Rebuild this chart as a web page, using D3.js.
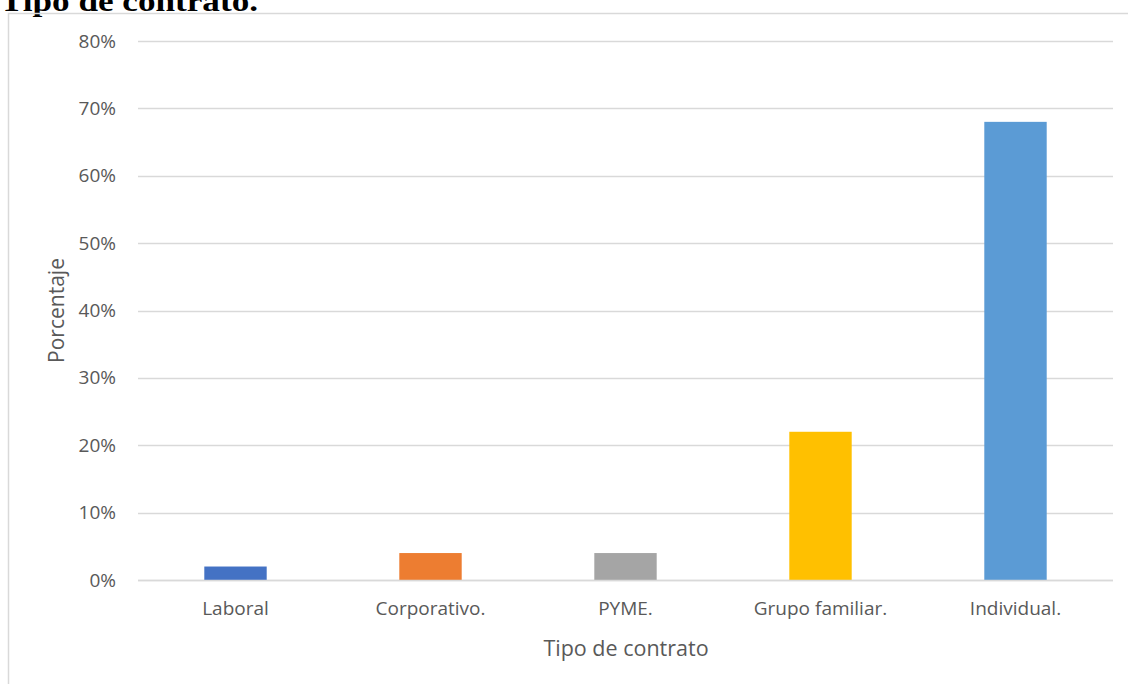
<!DOCTYPE html>
<html>
<head>
<meta charset="utf-8">
<script src="https://cdn.jsdelivr.net/npm/d3@7"></script>
<style>
  html, body { margin: 0; padding: 0; background: #fff; }
  svg { display: block; }
</style>
</head>
<body>
<svg id="chart" width="1128" height="684"></svg>
<script>
// Contract types and their share of the total (percent)
const categories = ["Laboral", "Corporativo.", "PYME.", "Grupo familiar.", "Individual."];
const values = [2, 4, 4, 22, 68];
const colors = ["#4472C4", "#ED7D31", "#A5A5A5", "#FFC000", "#5B9BD5"];
const yTicks = [0, 10, 20, 30, 40, 50, 60, 70, 80];

const svg = d3.select("#chart");
const font = "'Open Sans', 'Noto Sans', sans-serif";
const textColor = "#595959";

// Heading above the chart frame
svg.append("text")
  .attr("x", 0).attr("y", 11)
  .attr("font-family", "'Liberation Serif', 'Times New Roman', serif")
  .attr("font-weight", "bold")
  .attr("font-size", 29)
  .attr("textLength", 258)
  .attr("lengthAdjust", "spacingAndGlyphs")
  .attr("fill", "#000")
  .text("Tipo de contrato.");

// Chart frame (extends past the right and bottom edges)
svg.append("rect")
  .attr("x", 8.5).attr("y", 13.5)
  .attr("width", 1130).attr("height", 690)
  .attr("fill", "none")
  .attr("stroke", "#D9D9D9")
  .attr("stroke-width", 1.5);

const plot = { left: 138, right: 1113, top: 41, bottom: 580 };

const x = d3.scaleBand()
  .domain(categories)
  .range([plot.left, plot.right])
  .paddingInner(0.68)
  .paddingOuter(0.34);

const y = d3.scaleLinear()
  .domain([0, 80])
  .range([plot.bottom, plot.top]);

// Horizontal gridlines
svg.append("g")
  .selectAll("line")
  .data(yTicks)
  .join("line")
  .attr("x1", plot.left).attr("x2", plot.right)
  .attr("y1", d => Math.round(y(d)) + 0.5)
  .attr("y2", d => Math.round(y(d)) + 0.5)
  .attr("stroke", "#D9D9D9")
  .attr("stroke-width", 1.5);

// Y axis labels
const yAxis = d3.axisLeft(y)
  .tickValues(yTicks)
  .tickFormat(d => d + "%")
  .tickSize(0)
  .tickPadding(22);
const gy = svg.append("g")
  .attr("transform", `translate(${plot.left},0)`)
  .call(yAxis);
gy.select(".domain").remove();
gy.selectAll("text")
  .attr("font-family", font)
  .attr("font-size", 19)
  .attr("fill", textColor);

// Bars
svg.append("g")
  .selectAll("rect")
  .data(categories.map((c, i) => ({ c, v: values[i], color: colors[i] })))
  .join("rect")
  .attr("x", d => x(d.c))
  .attr("width", x.bandwidth())
  .attr("y", d => y(d.v))
  .attr("height", d => y(0) - y(d.v))
  .attr("fill", d => d.color);

// Baseline redrawn over bar bottoms
svg.append("line")
  .attr("x1", plot.left).attr("x2", plot.right)
  .attr("y1", Math.round(y(0)) + 0.5).attr("y2", Math.round(y(0)) + 0.5)
  .attr("stroke", "#D9D9D9")
  .attr("stroke-width", 1.5);

// X axis labels
const xAxis = d3.axisBottom(x).tickSize(0).tickPadding(22);
const gx = svg.append("g")
  .attr("transform", `translate(0,${plot.bottom})`)
  .call(xAxis);
gx.select(".domain").remove();
gx.selectAll("text")
  .attr("font-family", font)
  .attr("font-size", 19)
  .attr("fill", textColor);

// Axis titles
svg.append("text")
  .attr("x", 626)
  .attr("y", 656)
  .attr("text-anchor", "middle")
  .attr("font-family", font)
  .attr("font-size", 21.5)
  .attr("fill", textColor)
  .text("Tipo de contrato");

svg.append("text")
  .attr("transform", `translate(64,${(plot.top + plot.bottom) / 2}) rotate(-90)`)
  .attr("text-anchor", "middle")
  .attr("font-family", font)
  .attr("font-size", 21)
  .attr("fill", textColor)
  .text("Porcentaje");
</script>
</body>
</html>
